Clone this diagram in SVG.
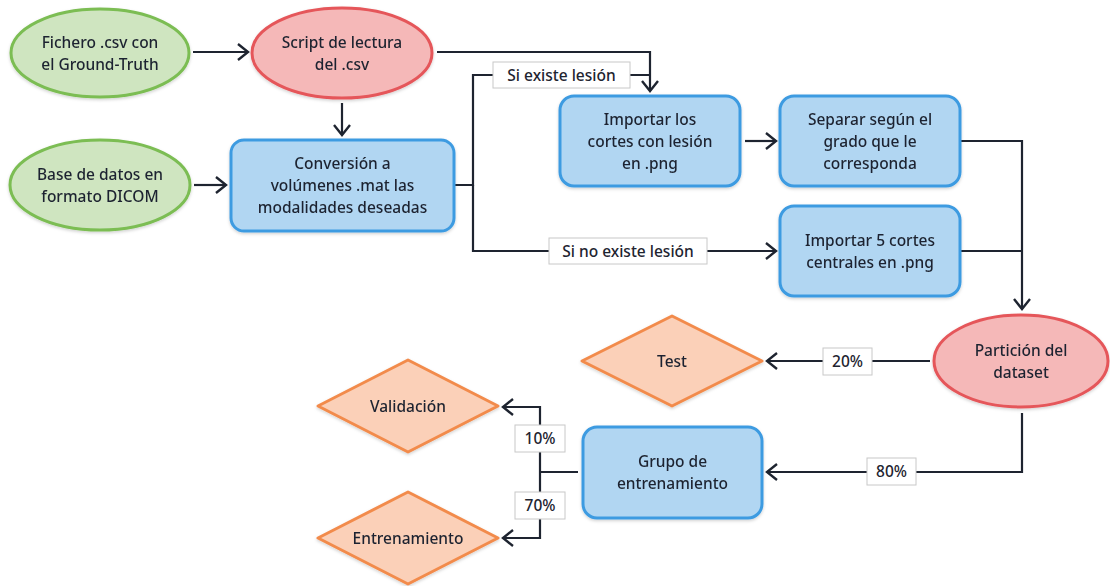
<svg xmlns="http://www.w3.org/2000/svg" width="1110" height="586" viewBox="0 0 1110 586">
<defs>
<style>
.t{font-family:"Noto Sans","Liberation Sans",sans-serif;font-size:15.5px;font-weight:500;fill:#1e2430;text-anchor:middle}
.g{fill:#cfe5c0;stroke:#7bbd53;stroke-width:3}
.r{fill:#f5b8b8;stroke:#e5575a;stroke-width:3}
.b{fill:#b1d6f2;stroke:#3e9be1;stroke-width:3}
.o{fill:#fbd0b8;stroke:#f28b4c;stroke-width:3;stroke-linejoin:round}
.c{fill:none;stroke:#1e2430;stroke-width:2.2}
.a{marker-end:url(#arr)}
.l{fill:#fff;stroke:#c8c8c8;stroke-width:1}
</style>
<marker id="arr" markerUnits="userSpaceOnUse" markerWidth="14" markerHeight="20" refX="12" refY="10" orient="auto">
<path d="M2,2 L12,10 L2,18" fill="none" stroke="#1e2430" stroke-width="2.4"/>
</marker>
<filter id="sh" x="-10%" y="-10%" width="120%" height="130%">
<feDropShadow dx="0" dy="1.5" stdDeviation="1.5" flood-color="#000" flood-opacity="0.18"/>
</filter>
</defs>
<g id="connectors">
<path class="c a" d="M193,52 H248"/>
<path class="c a" d="M342,103 V135"/>
<path class="c a" d="M194,185 H226"/>
<path class="c a" d="M437,52 H650 V91"/>
<path class="c" d="M454,185 H473 V75 H650"/>
<path class="c a" d="M473,185 V251 H776"/>
<path class="c a" d="M745,141 H776"/>
<path class="c a" d="M960,141 H1022 V309"/>
<path class="c" d="M960,251 H1022"/>
<path class="c a" d="M930,361 H767"/>
<path class="c a" d="M1022,413 V472 H767"/>
<path class="c" d="M578,472 H540"/>
<path class="c a" d="M540,472 V407 H503"/>
<path class="c a" d="M540,472 V538 H503"/>
<rect class="l" x="493" y="62" width="137" height="26"/>
<text class="t" x="561.5" y="80.5">Si existe lesión</text>
<rect class="l" x="549" y="238" width="158" height="26"/>
<text class="t" x="628" y="256.5">Si no existe lesión</text>
<rect class="l" x="823" y="348" width="49" height="27"/>
<text class="t" x="847.5" y="367">20%</text>
<rect class="l" x="867" y="458" width="49" height="27"/>
<text class="t" x="891.5" y="477">80%</text>
<rect class="l" x="515" y="425" width="50" height="27"/>
<text class="t" x="540" y="444">10%</text>
<rect class="l" x="515" y="492" width="50" height="27"/>
<text class="t" x="540" y="511">70%</text>
</g>
<g id="fichero" filter="url(#sh)">
<ellipse class="g" cx="100" cy="53" rx="89" ry="44"/>
<text class="t" x="100" y="48">Fichero .csv con</text>
<text class="t" x="100" y="70">el Ground-Truth</text>
</g>
<g id="script" filter="url(#sh)">
<ellipse class="r" cx="342" cy="53" rx="90" ry="45"/>
<text class="t" x="342" y="48">Script de lectura</text>
<text class="t" x="342" y="70">del .csv</text>
</g>
<g id="base" filter="url(#sh)">
<ellipse class="g" cx="100" cy="185" rx="90" ry="45"/>
<text class="t" x="100" y="180">Base de datos en</text>
<text class="t" x="100" y="202">formato DICOM</text>
</g>
<g id="conversion" filter="url(#sh)">
<rect class="b" x="231" y="140" width="223" height="91" rx="13"/>
<text class="t" x="342.5" y="169">Conversión a</text>
<text class="t" x="342.5" y="191">volúmenes .mat las</text>
<text class="t" x="342.5" y="213">modalidades deseadas</text>
</g>
<g id="importar-lesion" filter="url(#sh)">
<rect class="b" x="560" y="96" width="180" height="90" rx="14"/>
<text class="t" x="650" y="125">Importar los</text>
<text class="t" x="650" y="147">cortes con lesión</text>
<text class="t" x="650" y="169">en .png</text>
</g>
<g id="separar" filter="url(#sh)">
<rect class="b" x="780" y="96" width="180" height="90" rx="14"/>
<text class="t" x="870" y="125">Separar según el</text>
<text class="t" x="870" y="147">grado que le</text>
<text class="t" x="870" y="169">corresponda</text>
</g>
<g id="importar-5" filter="url(#sh)">
<rect class="b" x="780" y="206" width="180" height="90" rx="14"/>
<text class="t" x="870" y="246">Importar 5 cortes</text>
<text class="t" x="870" y="268">centrales en .png</text>
</g>
<g id="particion" filter="url(#sh)">
<ellipse class="r" cx="1021" cy="361" rx="87" ry="46"/>
<text class="t" x="1021" y="356">Partición del</text>
<text class="t" x="1021" y="378">dataset</text>
</g>
<g id="test" filter="url(#sh)">
<path class="o" d="M672,316 L762,361 L672,406 L582,361 Z"/>
<text class="t" x="672" y="367">Test</text>
</g>
<g id="grupo" filter="url(#sh)">
<rect class="b" x="583" y="427" width="179" height="91" rx="14"/>
<text class="t" x="672.5" y="467">Grupo de</text>
<text class="t" x="672.5" y="489">entrenamiento</text>
</g>
<g id="validacion" filter="url(#sh)">
<path class="o" d="M408,360 L498,406 L408,452 L318,406 Z"/>
<text class="t" x="408" y="412">Validación</text>
</g>
<g id="entrenamiento" filter="url(#sh)">
<path class="o" d="M408,492 L498,538 L408,584 L318,538 Z"/>
<text class="t" x="408" y="544">Entrenamiento</text>
</g>
</svg>
